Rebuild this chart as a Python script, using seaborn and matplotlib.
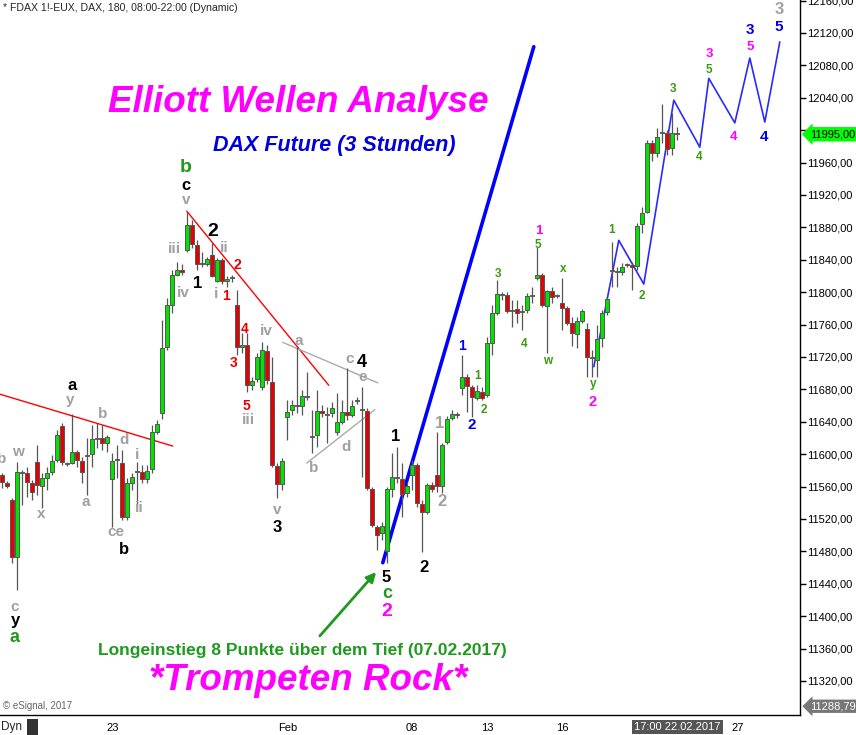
import numpy as np
import pandas as pd
import matplotlib
matplotlib.use("Agg")
import matplotlib.pyplot as plt
import matplotlib.transforms as mtransforms
from matplotlib.patches import Rectangle
import seaborn as sns

W, H = 856, 735

# --- FDAX 3h candles (index 0 = Jan 17, 5 candles per trading day) ---
opens = [11574, 11564, 11543, 11473, 11578, 11577, 11564, 11590, 11561, 11571,
         11578, 11593, 11635, 11588, 11589, 11603, 11592, 11598, 11600, 11619,
         11620, 11614, 11569, 11593, 11589, 11522, 11564, 11578, 11578, 11569,
         11582, 11627, 11651, 11732, 11784, 11821, 11827, 11852, 11883, 11858,
         11835, 11835, 11846, 11814, 11840, 11814, 11817, 11784, 11732, 11735,
         11685, 11693, 11683, 11727, 11689, 11585, 11563, 11646, 11655, 11660,
         11660, 11671, 11621, 11624, 11653, 11648, 11651, 11627, 11640, 11652,
         11648, 11666, 11655, 11653, 11557, 11510, 11503, 11481, 11557, 11572,
         11569, 11552, 11574, 11587, 11538, 11529, 11562, 11574, 11561, 11615,
         11645, 11650, 11682, 11695, 11683, 11669, 11677, 11673, 11737, 11774,
         11796, 11796, 11777, 11779, 11775, 11778, 11795, 11817, 11821, 11783,
         11801, 11795, 11787, 11780, 11762, 11748, 11764, 11754, 11719, 11716,
         11743, 11775, 11826, 11826, 11825, 11833, 11833, 11832, 11884, 11899,
         11984, 11972, 11997, 11997, 11978, 11995]
highs = [11577, 11567, 11546, 11590, 11580, 11584, 11568, 11611, 11577, 11584,
         11599, 11630, 11638, 11590, 11650, 11605, 11597, 11620, 11636, 11638,
         11636, 11624, 11601, 11611, 11605, 11571, 11577, 11590, 11587, 11587,
         11636, 11642, 11766, 11793, 11827, 11837, 11835, 11899, 11889, 11864,
         11850, 11843, 11861, 11842, 11842, 11820, 11821, 11803, 11750, 11750,
         11695, 11725, 11738, 11735, 11720, 11589, 11595, 11667, 11667, 11732,
         11679, 11701, 11654, 11679, 11661, 11658, 11664, 11676, 11667, 11706,
         11667, 11671, 11683, 11657, 11559, 11513, 11516, 11559, 11601, 11609,
         11589, 11566, 11593, 11589, 11543, 11564, 11566, 11627, 11614, 11647,
         11655, 11652, 11722, 11699, 11685, 11685, 11683, 11745, 11784, 11815,
         11800, 11800, 11790, 11790, 11784, 11799, 11806, 11856, 11824, 11803,
         11806, 11798, 11817, 11783, 11769, 11769, 11779, 11762, 11729, 11759,
         11778, 11794, 11862, 11831, 11836, 11836, 11837, 11885, 11905, 11988,
         11988, 12003, 12032, 12000, 12021, 12004]
lows = [11558, 11558, 11466, 11432, 11537, 11547, 11543, 11550, 11534, 11556,
        11574, 11590, 11587, 11585, 11588, 11584, 11564, 11550, 11584, 11608,
        11605, 11603, 11510, 11571, 11519, 11519, 11556, 11537, 11564, 11564,
        11577, 11625, 11643, 11729, 11774, 11820, 11821, 11850, 11854, 11827,
        11831, 11832, 11819, 11813, 11810, 11806, 11813, 11722, 11725, 11677,
        11679, 11689, 11679, 11687, 11584, 11546, 11556, 11617, 11648, 11651,
        11648, 11667, 11601, 11609, 11646, 11614, 11646, 11624, 11637, 11642,
        11646, 11662, 11572, 11556, 11510, 11482, 11494, 11466, 11547, 11564,
        11522, 11547, 11556, 11535, 11479, 11526, 11553, 11553, 11552, 11612,
        11642, 11645, 11673, 11652, 11646, 11667, 11667, 11671, 11722, 11772,
        11790, 11774, 11757, 11762, 11753, 11774, 11787, 11815, 11782, 11725,
        11787, 11793, 11753, 11759, 11733, 11731, 11762, 11695, 11695, 11695,
        11732, 11772, 11806, 11806, 11821, 11831, 11803, 11827, 11873, 11898,
        11962, 11967, 11984, 11969, 11969, 11988]
closes = [11566, 11561, 11473, 11578, 11577, 11566, 11553, 11562, 11571, 11577,
          11592, 11624, 11590, 11588, 11603, 11593, 11578, 11598, 11619, 11619,
          11614, 11621, 11592, 11593, 11522, 11564, 11572, 11578, 11569, 11579,
          11627, 11637, 11731, 11784, 11821, 11827, 11825, 11883, 11859, 11835,
          11835, 11841, 11820, 11840, 11814, 11816, 11817, 11732, 11735, 11685,
          11690, 11720, 11729, 11692, 11587, 11563, 11592, 11652, 11661, 11660,
          11672, 11671, 11621, 11653, 11651, 11648, 11657, 11640, 11652, 11648,
          11660, 11666, 11655, 11558, 11513, 11500, 11511, 11557, 11572, 11571,
          11551, 11561, 11587, 11540, 11529, 11562, 11557, 11561, 11611, 11643,
          11650, 11648, 11695, 11684, 11671, 11678, 11669, 11737, 11774, 11798,
          11796, 11777, 11777, 11774, 11775, 11795, 11795, 11821, 11784, 11801,
          11794, 11795, 11780, 11762, 11750, 11764, 11777, 11720, 11719, 11742,
          11774, 11792, 11826, 11825, 11831, 11833, 11831, 11882, 11898, 11984,
          11972, 11992, 11997, 11977, 11997, 11995]

# date ticks (candle index -> label)
tick_idx = [22, 57, 82, 97, 112, 147]
tick_labels = ["23", "Feb", "08", "13", "16", "27"]
cursor_idx = 135
cursor_label = "17:00 22.02.2017"
price_ticks = [11320, 11360, 11400, 11440, 11480, 11520, 11560, 11600, 11640,
               11680, 11720, 11760, 11800, 11840, 11880, 11920, 11960, 12000,
               12040, 12080, 12120, 12160]
last_price = 11995.00
low_marker = 11288.79

# trend lines / wave count path (candle index, price)
red1_x, red1_y = [-0.46, 34.1], [11674, 11610]
red2_x, red2_y = [36.9, 65.3], [11900, 11685]
tri_up_x, tri_up_y = [56.1, 75.1], [11738, 11688]
tri_lo_x, tri_lo_y = [60.9, 74.5], [11589, 11655]
channel_x, channel_y = [76.1, 106.3], [11466, 12103]
proj_x = [118.3, 123.3, 128.3, 134.3, 139.5, 141.3, 146.5, 149.5, 152.5, 155.5]
proj_y = [11708, 11864, 11810, 12037, 11979, 12064, 12009, 12089, 12010, 12109]

GREEN = "#00e400"
RED = "#e80000"
EDGE = "#555555"
GRAY = "#a0a0a0"
DKGREEN = "#1f9a1f"
SGREEN = "#3c9a10"
MAG = "#ff00ff"
BLUE = "#0000f0"

# wave labels: (x px, y px, text, colour, size)
wave_labels = [
    (2, 459, "b", GRAY, 11), (18, 452, "w", GRAY, 11), (41, 514, "x", GRAY, 11),
    (15, 607, "c", GRAY, 11), (15, 621, "y", "black", 12), (15, 637, "a", DKGREEN, 13),
    (72, 385, "a", "black", 12), (70, 400, "y", GRAY, 11), (86, 502, "a", GRAY, 11),
    (103, 414, "b", GRAY, 11), (124, 440, "d", GRAY, 11), (137, 455, "i", GRAY, 11),
    (139, 508, "ii", GRAY, 11), (116, 532, "ce", GRAY, 11), (124, 549, "b", "black", 12),
    (186, 168, "b", DKGREEN, 14), (186, 185, "c", "black", 12), (186, 200, "v", GRAY, 11),
    (174, 249, "iii", GRAY, 11), (183, 293, "iv", GRAY, 11), (198, 283, "1", "black", 12),
    (213, 231, "2", "black", 14), (224, 248, "ii", GRAY, 11), (237, 265, "2", RED, 10),
    (216, 294, "i", GRAY, 11), (226, 296, "1", RED, 10), (245, 329, "4", RED, 10),
    (266, 331, "iv", GRAY, 11), (234, 363, "3", RED, 10), (246, 406, "5", RED, 10),
    (248, 420, "iii", GRAY, 11), (277, 510, "v", GRAY, 11), (277, 528, "3", "black", 12),
    (299, 341, "a", GRAY, 11), (314, 468, "b", GRAY, 11), (346, 447, "d", GRAY, 11),
    (350, 359, "c", GRAY, 11), (362, 362, "4", "black", 13), (363, 377, "e", GRAY, 11),
    (396, 437, "1", "black", 12), (386, 577, "5", "black", 12), (387, 593, "c", DKGREEN, 13),
    (387, 611, "2", MAG, 14), (424, 567, "2", "black", 12), (440, 424, "1", GRAY, 12),
    (442, 501, "2", GRAY, 12), (462, 346, "1", BLUE, 10), (478, 376, "1", SGREEN, 8.5),
    (484, 410, "2", SGREEN, 8.5), (472, 425, "2", BLUE, 11), (498, 274, "3", SGREEN, 8.5),
    (524, 344, "4", SGREEN, 8.5), (539, 231, "1", MAG, 9.5), (538, 245, "5", SGREEN, 8.5),
    (563, 269, "x", SGREEN, 8.5), (548, 361, "w", SGREEN, 8.5), (593, 384, "y", SGREEN, 8.5),
    (593, 402, "2", MAG, 10.5), (612, 230, "1", SGREEN, 8.5), (642, 296, "2", SGREEN, 8.5),
    (673, 89, "3", SGREEN, 8.5), (699, 157, "4", SGREEN, 8.5), (709, 70, "5", SGREEN, 8.5),
    (709, 54, "3", MAG, 9.5), (733, 137, "4", MAG, 9.5), (750, 47, "5", MAG, 9.5),
    (750, 30, "3", BLUE, 11), (764, 137, "4", BLUE, 11), (779, 10, "3", GRAY, 12),
    (779, 27, "5", BLUE, 11),
]

sns.set_theme(style="white")
plt.rcParams["font.family"] = ["Liberation Sans", "DejaVu Sans"]

df = pd.DataFrame({"open": opens, "high": highs, "low": lows, "close": closes})
df["idx"] = np.arange(len(df))

fig = plt.figure(figsize=(W / 100, H / 100), dpi=100)
ax = fig.add_axes([0, 20 / H, 800 / W, 715 / H])
ax.set_xlim(-0.46, 159.54)
ax.set_ylim(11278, 12160.7)


def fx(x):
    return x / W


def fy(y):
    return 1 - y / H


# trend lines and projection
for xs, ys, col, lw in [(red1_x, red1_y, "#ff0000", 1), (red2_x, red2_y, "#ff0000", 1),
                        (tri_up_x, tri_up_y, "#aaaaaa", 1), (tri_lo_x, tri_lo_y, "#aaaaaa", 1),
                        (channel_x, channel_y, "#0000ff", 2.6), (proj_x, proj_y, "#2a2aff", 1.2)]:
    sns.lineplot(x=xs, y=ys, ax=ax, color=col, lw=lw, sort=False, zorder=1)

# candles
ax.vlines(df["idx"], df["low"], df["high"], color=EDGE, lw=0.9, zorder=2)
body = df[(df["close"] - df["open"]).abs() >= 2]
doji = df[(df["close"] - df["open"]).abs() < 2]
ax.bar(body["idx"], (body["close"] - body["open"]).abs(),
       bottom=body[["open", "close"]].min(axis=1), width=0.8,
       color=np.where(body["close"] > body["open"], GREEN, RED),
       edgecolor=EDGE, lw=0.7, zorder=3)
ax.hlines(doji["close"], doji["idx"] - 0.5, doji["idx"] + 0.5, color=EDGE, lw=1.3, zorder=3)

# axes styling
for s in ["left", "top"]:
    ax.spines[s].set_visible(False)
for s in ["right", "bottom"]:
    ax.spines[s].set_color("black")
    ax.spines[s].set_linewidth(1)
ax.yaxis.tick_right()
ax.set_yticks(price_ticks)
ax.set_yticklabels([f"{v:.2f}".replace(".", ",") for v in price_ticks])
ax.set_xticks(tick_idx)
ax.set_xticklabels(tick_labels)
ax.tick_params(axis="y", direction="out", length=4, width=1, pad=1, labelsize=8, colors="black")
ax.tick_params(axis="x", direction="out", length=3, width=1, pad=3, labelsize=8, colors="black")
ax.grid(False)

# price markers on the right axis
ybl = mtransforms.blended_transform_factory(ax.transAxes, ax.transData)
ax.text(1.012, last_price, f"{last_price:.2f}".replace(".", ","), transform=ybl, fontsize=8,
        ha="left", va="center", color="black", clip_on=False, zorder=10,
        bbox=dict(boxstyle="larrow,pad=0.2", fc="#00ff00", ec="none"))
ax.text(1.012, low_marker, f"{low_marker:.2f}".replace(".", ","), transform=ybl, fontsize=8,
        ha="left", va="center", color="white", clip_on=False, zorder=10,
        bbox=dict(boxstyle="larrow,pad=0.15", fc="#777777", ec="none"))

# date cursor box under the axis
xbl = mtransforms.blended_transform_factory(ax.transData, ax.transAxes)
ax.text(cursor_idx, -0.017, cursor_label, transform=xbl, fontsize=8, ha="center", va="center",
        color="white", clip_on=False, zorder=10,
        bbox=dict(boxstyle="square,pad=0.2", fc="#555555", ec="none"))
fig.text(fx(1), fy(727), "Dyn", fontsize=8.5, ha="left", va="center")
fig.patches.append(Rectangle((fx(27), fy(735)), 11 / W, 16 / H, transform=fig.transFigure,
                             fc="#333333", ec="none"))

# header / footer
fig.text(fx(3), fy(8), "* FDAX 1!-EUX, DAX, 180, 08:00-22:00 (Dynamic)", fontsize=7.6,
         ha="left", va="center")
fig.text(fx(3), fy(706), "\u00a9 eSignal, 2017", fontsize=7, color="#666666",
         ha="left", va="center")

# titles
fig.text(fx(298), fy(102), "Elliott Wellen Analyse", color=MAG, fontsize=26.5,
         fontweight="bold", fontstyle="italic", ha="center", va="center")
fig.text(fx(334), fy(145), "DAX Future (3 Stunden)", color="#0000dd", fontsize=15.5,
         fontweight="bold", fontstyle="italic", ha="center", va="center")
fig.text(fx(302), fy(650), "Longeinstieg 8 Punkte \u00fcber dem Tief (07.02.2017)",
         color=DKGREEN, fontsize=12.5, fontweight="bold", ha="center", va="center")
fig.text(fx(308), fy(680), "*Trompeten Rock*", color=MAG, fontsize=26.5,
         fontweight="bold", fontstyle="italic", ha="center", va="center")

ax.annotate("", xy=(fx(378), fy(570)), xytext=(fx(318), fy(638)), xycoords="figure fraction",
            textcoords="figure fraction",
            arrowprops=dict(arrowstyle="-|>", color=DKGREEN, lw=2, mutation_scale=14))

for x, y, s, col, size in wave_labels:
    fig.text(fx(x), fy(y), s, color=col, fontsize=size, fontweight="bold",
             ha="center", va="center")

fig.savefig("out.png", dpi=100)
